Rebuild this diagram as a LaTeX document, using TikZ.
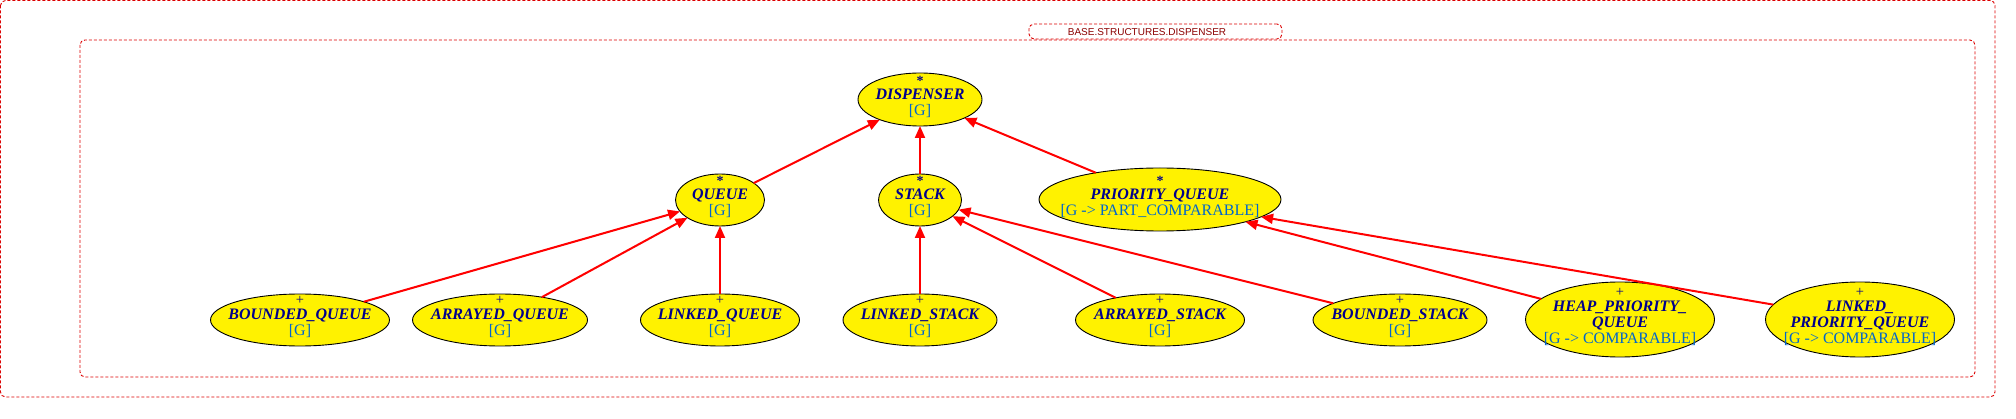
\documentclass[tikz,border=0pt]{standalone}
\usepackage{fontspec}
\setmainfont{Liberation Serif}
\newfontfamily\lsans{Liberation Sans}
\usetikzlibrary{shapes.geometric,arrows.meta}
\definecolor{clsname}{RGB}{0,0,140}
\definecolor{clsparam}{RGB}{0,102,204}
\definecolor{pkgtext}{RGB}{140,0,0}
\definecolor{edgered}{RGB}{255,0,0}
\definecolor{boxred}{RGB}{220,0,0}
\tikzset{
  cls/.style={ellipse, draw=black, line width=0.9pt, fill=yellow, inner sep=0pt, outer sep=0pt},
  clstext/.style={align=center, inner sep=0pt, text=clsname, font=\fontsize{16}{16}\selectfont},
  inh/.style={draw=edgered, line width=2pt, -{Triangle[length=12pt,width=10pt]}},
  pkg/.style={draw=boxred, dash pattern=on 3pt off 2pt, rounded corners=5pt, line width=0.9pt},
}
\newcommand\defmark{\raisebox{-1pt}{\fontsize{14}{14}\selectfont\bfseries *}}
\newcommand\effmark{{\fontsize{14.5}{14.5}\selectfont +}}
\newcommand\cname[1]{{\bfseries\itshape #1}}
\newcommand\cparam[1]{{\color{clsparam}#1}}
\begin{document}
\begin{tikzpicture}[x=1pt,y=-1pt]
\useasboundingbox (0,0) rectangle (2016,419);
% package frames
\draw[pkg] (0.5,0.5) rectangle (1995,397);
\draw[pkg] (80,40) rectangle (1975,377);
\node[pkg, fill=white, minimum width=253pt, minimum height=15pt, inner sep=0pt] (lblbox) at (1155.5,31.5) {};
\node[inner sep=0pt, text=pkgtext, font=\lsans\fontsize{10}{10}\selectfont] (lbl) at (1147,32) {BASE.STRUCTURES.DISPENSER};
% classes
\node[cls, minimum width=124pt, minimum height=53pt] (disp) at (920,99.5) {};
\node[clstext] (disp-t) at (disp) {\defmark\\[-1pt]\cname{DISPENSER}\\\cparam{[G]}\rule[-7.5pt]{0pt}{0pt}};
\node[cls, minimum width=89pt, minimum height=52pt] (queue) at (720,200) {};
\node[clstext] (queue-t) at (queue) {\defmark\\[-1pt]\cname{QUEUE}\\\cparam{[G]}\rule[-7.5pt]{0pt}{0pt}};
\node[cls, minimum width=83pt, minimum height=52pt] (stack) at (920,200) {};
\node[clstext] (stack-t) at (stack) {\defmark\\[-1pt]\cname{STACK}\\\cparam{[G]}\rule[-7.5pt]{0pt}{0pt}};
\node[cls, minimum width=242pt, minimum height=63pt] (pq) at (1160,199.5) {};
\node[clstext] (pq-t) at (pq) {\defmark\\[-1pt]\cname{PRIORITY\_QUEUE}\\\cparam{[G -> PART\_COMPARABLE]}\rule[-7.5pt]{0pt}{0pt}};
\node[cls, minimum width=179pt, minimum height=52pt] (bq) at (300,320) {};
\node[clstext] (bq-t) at (bq) {\effmark\\[-1pt]\cname{BOUNDED\_QUEUE}\\\cparam{[G]}\rule[-7.5pt]{0pt}{0pt}};
\node[cls, minimum width=175pt, minimum height=52pt] (aq) at (500,320) {};
\node[clstext] (aq-t) at (aq) {\effmark\\[-1pt]\cname{ARRAYED\_QUEUE}\\\cparam{[G]}\rule[-7.5pt]{0pt}{0pt}};
\node[cls, minimum width=159pt, minimum height=52pt] (lq) at (720,320) {};
\node[clstext] (lq-t) at (lq) {\effmark\\[-1pt]\cname{LINKED\_QUEUE}\\\cparam{[G]}\rule[-7.5pt]{0pt}{0pt}};
\node[cls, minimum width=154pt, minimum height=52pt] (ls) at (920,320) {};
\node[clstext] (ls-t) at (ls) {\effmark\\[-1pt]\cname{LINKED\_STACK}\\\cparam{[G]}\rule[-7.5pt]{0pt}{0pt}};
\node[cls, minimum width=169pt, minimum height=52pt] (astk) at (1160,320) {};
\node[clstext] (astk-t) at (astk) {\effmark\\[-1pt]\cname{ARRAYED\_STACK}\\\cparam{[G]}\rule[-7.5pt]{0pt}{0pt}};
\node[cls, minimum width=174pt, minimum height=52pt] (bs) at (1400,320) {};
\node[clstext] (bs-t) at (bs) {\effmark\\[-1pt]\cname{BOUNDED\_STACK}\\\cparam{[G]}\rule[-7.5pt]{0pt}{0pt}};
\node[cls, minimum width=189pt, minimum height=75pt] (hpq) at (1620,319.5) {};
\node[clstext] (hpq-t) at (hpq) {\effmark\\[-1pt]\cname{HEAP\_PRIORITY\_}\\\cname{QUEUE}\\\cparam{[G -> COMPARABLE]}\rule[-7.5pt]{0pt}{0pt}};
\node[cls, minimum width=189pt, minimum height=75pt] (lpq) at (1860,319.5) {};
\node[clstext] (lpq-t) at (lpq) {\effmark\\[-1pt]\cname{LINKED\_}\\\cname{PRIORITY\_QUEUE}\\\cparam{[G -> COMPARABLE]}\rule[-7.5pt]{0pt}{0pt}};
% inheritance
\draw[inh] (queue) -- (disp);
\draw[inh] (stack) -- (disp);
\draw[inh] (pq) -- (disp);
\draw[inh] (bq) -- (queue);
\draw[inh] (aq) -- (queue);
\draw[inh] (lq) -- (queue);
\draw[inh] (ls) -- (stack);
\draw[inh] (astk) -- (stack);
\draw[inh] (bs) -- (stack);
\draw[inh] (hpq) -- (pq);
\draw[inh] (lpq) -- (pq);
\end{tikzpicture}
\end{document}
